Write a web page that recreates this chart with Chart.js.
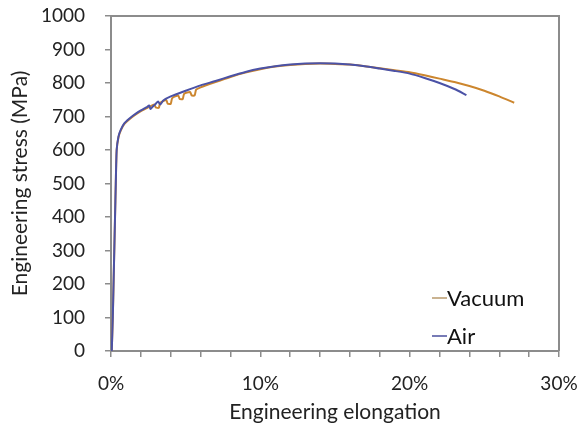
<!DOCTYPE html>
<html>
<head>
<meta charset="utf-8">
<script src="https://cdn.jsdelivr.net/npm/chart.js@4.4.1/dist/chart.umd.min.js"></script>
<style>
  body { margin: 0; background: #fff; }
  #wrap { width: 579px; height: 434px; }
</style>
</head>
<body>
<div id="wrap"><canvas id="chart"></canvas></div>
<script>
// engineering elongation (%) and stress (MPa)
const airStrain = [0.05, 0.12, 0.17, 0.22, 0.27, 0.32, 0.38, 0.5, 0.65, 0.9, 1.4, 2.0, 2.4, 2.55, 2.65, 2.8, 3.0, 3.15, 3.3, 3.5, 4, 5, 6, 7, 8, 9, 10, 11, 12, 13, 14, 15, 16, 17, 18, 19, 20, 21, 22, 23, 23.8];
const airStress = [0, 100, 200, 300, 400, 500, 600, 640, 660, 680, 700, 718, 728, 733, 722, 730, 738, 745, 736, 748, 760, 777, 793, 806, 820, 833, 843, 850, 855, 858, 859, 858, 855, 850, 843, 836, 828, 815, 800, 782, 764];

const vacStrain = [0.05, 0.12, 0.17, 0.22, 0.27, 0.32, 0.38, 0.5, 0.65, 0.9, 1.4, 2.0, 2.4, 2.6, 2.9, 3.0, 3.2, 3.3, 3.7, 3.8, 4.0, 4.1, 4.5, 4.6, 4.8, 4.9, 5.3, 5.4, 5.6, 5.7, 6, 7, 8, 9, 10, 11, 12, 13, 14, 15, 16, 17, 18, 19, 20, 21, 22, 23, 24, 25, 26, 27];
const vacStress = [0, 100, 200, 300, 400, 500, 600, 638, 658, 678, 698, 716, 725, 730, 736, 727, 726, 741, 749, 738, 738, 755, 763, 752, 752, 768, 773, 763, 763, 780, 787, 803, 818, 831, 841, 849, 854, 857, 858, 857, 855, 850, 844, 838, 832, 823, 813, 803, 791, 777, 760, 741];

const xTickLabels = ["0%", "10%", "20%", "30%"];
const yMax = 1000;

const toPoints = (xs, ys) => xs.map((x, i) => ({ x: x, y: ys[i] }));

const fontFamily = "Lato, 'Open Sans', sans-serif";
const axisColor = "#8c8c8c";

// frame on top and right, and the legend inside the plot
const framePlugin = {
  id: "frame",
  afterDraw(chart) {
    const { ctx, chartArea } = chart;
    ctx.save();
    ctx.strokeStyle = axisColor;
    ctx.lineWidth = 2;
    ctx.beginPath();
    ctx.moveTo(chartArea.left, chartArea.top);
    ctx.lineTo(chartArea.right, chartArea.top);
    ctx.lineTo(chartArea.right, chartArea.bottom);
    ctx.stroke();

    const items = [
      { label: "Vacuum", color: "#b99a6c" },
      { label: "Air", color: "#4a4f9e" },
    ];
    ctx.font = "22px " + fontFamily;
    ctx.textBaseline = "middle";
    ctx.fillStyle = "#111";
    items.forEach((it, i) => {
      const y = chartArea.bottom - 53 + i * 38;
      const x = chartArea.right - 127;
      ctx.strokeStyle = it.color;
      ctx.lineWidth = 1.5;
      ctx.beginPath();
      ctx.moveTo(x, y);
      ctx.lineTo(x + 15, y);
      ctx.stroke();
      ctx.fillText(it.label, x + 15, y + 1);
    });
    ctx.restore();
  },
};

const config = {
  type: "line",
  data: {
    datasets: [
      {
        label: "Air",
        data: toPoints(airStrain, airStress),
        borderColor: "#4b52a6",
        borderWidth: 2,
        pointRadius: 0,
        tension: 0.2,
        order: 0,
      },
      {
        label: "Vacuum",
        data: toPoints(vacStrain, vacStress),
        borderColor: "#cc862e",
        borderWidth: 2,
        pointRadius: 0,
        tension: 0.2,
        order: 1,
      },
    ],
  },
  options: {
    responsive: true,
    maintainAspectRatio: false,
    animation: false,
    layout: { padding: { top: 16, right: 20, left: 0, bottom: 6 } },
    plugins: {
      legend: { display: false },
      tooltip: { enabled: false },
    },
    scales: {
      x: {
        type: "linear",
        min: 0,
        max: 30,
        afterFit: (scale) => {
          scale.height = 77;
          scale.paddingLeft = 0;
          scale.paddingRight = 0;
        },
        ticks: {
          stepSize: 2,
          autoSkip: false,
          maxRotation: 0,
          color: "#222",
          font: { family: fontFamily, size: 19 },
          padding: 15,
          callback: (v) => (v % 10 === 0 ? xTickLabels[v / 10] : ""),
        },
        grid: {
          drawOnChartArea: false,
          tickLength: 6,
          color: axisColor,
          lineWidth: 1.5,
        },
        border: { color: axisColor, width: 2 },
        title: {
          display: true,
          text: "Engineering elongation",
          color: "#222",
          font: { family: fontFamily, size: 21 },
          padding: { top: 4, bottom: 3 },
        },
      },
      y: {
        min: 0,
        max: yMax,
        afterFit: (scale) => {
          scale.width = 111;
          scale.paddingTop = 0;
          scale.paddingBottom = 0;
        },
        ticks: {
          stepSize: 100,
          color: "#222",
          font: { family: fontFamily, size: 19 },
          padding: 20,
          callback: (v) => String(v),
        },
        grid: {
          drawOnChartArea: false,
          tickLength: 6,
          color: axisColor,
          lineWidth: 1.5,
        },
        border: { color: axisColor, width: 2 },
        title: {
          display: true,
          text: "Engineering stress (MPa)",
          color: "#222",
          font: { family: fontFamily, size: 21 },
          padding: { top: 8, bottom: 2 },
        },
      },
    },
  },
  plugins: [framePlugin],
};

new Chart(document.getElementById("chart"), config);
</script>
</body>
</html>
